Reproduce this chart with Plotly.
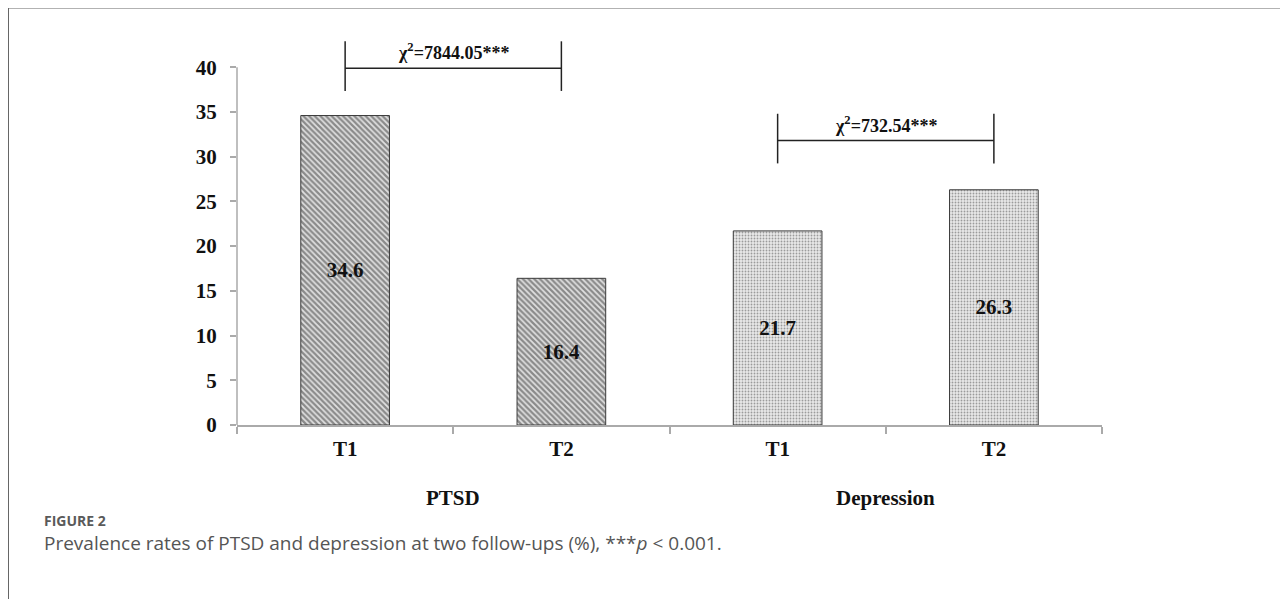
import plotly.graph_objects as go

groups = ["PTSD", "Depression"]
times = ["T1", "T2", "T1", "T2"]
values = [34.6, 16.4, 21.7, 26.3]
chi_labels = ["χ<sup>2</sup>=7844.05***", "χ<sup>2</sup>=732.54***"]
bracket_levels = [39.9, 31.8]
y_ticks = [0, 5, 10, 15, 20, 25, 30, 35, 40]

pos = list(range(len(values)))
serif = "Liberation Serif, Times New Roman, serif"
sans = "Open Sans, sans-serif"

W, H = 1280, 591
ML, MR, MT, MB = 229, 186, 19, 174
PW, PH = W - ML - MR, H - MT - MB


def px_x(fx):
    return (fx - ML) / PW


def px_y(fy):
    return (H - MB - fy) / PH


fig = go.Figure()
hatch = dict(shape="\\", size=4, solidity=0.55, fgcolor="#333333", bgcolor="#e0e0e0", fillmode="overlay")
dots = dict(shape=".", size=3, solidity=0.3, fgcolor="#4d4d4d", bgcolor="#e8e8e8", fillmode="overlay")
patterns = [hatch, hatch, dots, dots]
for i in pos:
    fig.add_trace(go.Bar(
        x=[pos[i]], y=[values[i]], width=0.41,
        marker=dict(color="#bdbdbd", pattern=patterns[i], line=dict(color="#3a3a3a", width=1)),
        text=[f"<b>{values[i]}</b>"], textposition="inside", insidetextanchor="middle",
        textfont=dict(family=serif, size=21, color="#111"), textangle=0,
        showlegend=False, hoverinfo="skip",
    ))

# y axis line (slightly below zero, up to 40)
fig.add_shape(type="line", xref="paper", yref="y", x0=0, x1=0, y0=-0.8, y1=y_ticks[-1],
              line=dict(color="#aaaaaa", width=1.5))

# significance brackets
for g in range(2):
    x0, x1 = pos[2 * g], pos[2 * g + 1]
    lvl = bracket_levels[g]
    up, down = 3.0, 2.55
    for (a, b, c, d) in [(x0, x1, lvl, lvl), (x0, x0, lvl - down, lvl + up), (x1, x1, lvl - down, lvl + up)]:
        fig.add_shape(type="line", xref="x", yref="y", x0=a, x1=b, y0=c, y1=d,
                      line=dict(color="#222", width=1.5))
    fig.add_annotation(x=(x0 + x1) / 2, y=lvl + 0.3, xref="x", yref="y", text=chi_labels[g],
                       showarrow=False, yanchor="bottom",
                       font=dict(family=serif, size=18, color="#111", weight="bold"))

# group labels
for g in range(2):
    fig.add_annotation(x=(pos[2 * g] + pos[2 * g + 1]) / 2, y=px_y(490), xref="x", yref="paper",
                       yanchor="middle", xanchor="center",
                       text=f"<b>{groups[g]}</b>", showarrow=False,
                       font=dict(family=serif, size=21, color="#111"))

# caption
fig.add_annotation(xref="paper", yref="paper", x=px_x(34), y=px_y(512), xanchor="left", yanchor="middle",
                   text="<b>FIGURE 2</b>", showarrow=False,
                   font=dict(family=sans, size=14, color="#5a5a5a"))
fig.add_annotation(xref="paper", yref="paper", x=px_x(34), y=px_y(535), xanchor="left", yanchor="middle",
                   text="Prevalence rates of PTSD and depression at two follow-ups (%), ***<i>p</i> &lt; 0.001.",
                   showarrow=False,
                   font=dict(family=sans, size=19, color="#555"))

# frame lines
fig.add_shape(type="line", xref="paper", yref="paper", x0=px_x(0), x1=px_x(W + 5), y0=px_y(-0.5), y1=px_y(-0.5),
              line=dict(color="#666", width=2))
fig.add_shape(type="line", xref="paper", yref="paper", x0=px_x(0), x1=px_x(0), y0=px_y(-0.5), y1=px_y(H + 5),
              line=dict(color="#666", width=2))

fig.update_layout(
    width=W, height=H,
    margin=dict(l=ML, r=MR, t=MT, b=MB),
    paper_bgcolor="white", plot_bgcolor="white",
    xaxis=dict(range=[-0.5, 3.5], tickvals=pos, ticktext=[f"<b>{t}</b>" for t in times],
               ticks="", showline=True, linecolor="#aaaaaa", linewidth=1.5, showgrid=False, zeroline=False,
               tickfont=dict(family=serif, size=21, color="#111"), ticklabelstandoff=4,
               minor=dict(tickvals=[-0.5, 0.5, 1.5, 2.5, 3.5], ticks="outside", ticklen=7,
                          tickcolor="#aaaaaa", tickwidth=1.5)),
    yaxis=dict(range=[0, 44.5], tickvals=y_ticks, ticktext=[f"<b>{v}</b>" for v in y_ticks],
               ticks="outside", ticklen=6, tickcolor="#aaaaaa", tickwidth=1.5,
               showline=False, showgrid=False, zeroline=False,
               tickfont=dict(family=serif, size=21, color="#111"), ticklabelstandoff=9),
)

fig.write_html("out.html")
